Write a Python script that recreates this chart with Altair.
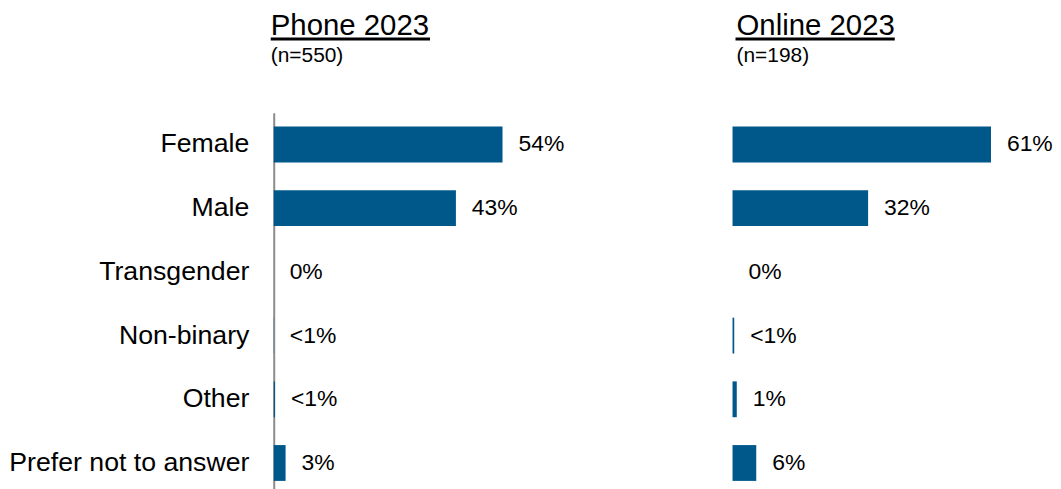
import altair as alt
import pandas as pd

categories = ["Female", "Male", "Transgender", "Non-binary", "Other", "Prefer not to answer"]
phone_values = [54, 43, 0, 0.05, 0.3, 2.8]
phone_labels = ["54%", "43%", "0%", "<1%", "<1%", "3%"]
online_values = [61, 32, 0, 0.4, 1.0, 5.6]
online_labels = ["61%", "32%", "0%", "<1%", "1%", "6%"]

FONT = "Liberation Sans"
BAR = "#00578A"
W, H = 298, 384


def panel(values, labels, title, subtitle, show_axis, ul_x1, ul_x2, tdx):
    df = pd.DataFrame({"cat": categories, "val": values, "lab": labels})
    base = alt.Chart(df)
    y_axis = (alt.Axis(title=None, labelFont=FONT, labelFontSize=26.8, labelColor="black",
                       ticks=False, domainColor="#8c8c8c", domainWidth=2, labelPadding=25,
                       labelLimit=400)
              if show_axis else None)
    y = alt.Y("cat:N", sort=categories, axis=y_axis,
              scale=alt.Scale(paddingInner=0.4375, paddingOuter=0.21875))
    x = alt.X("val:Q", scale=alt.Scale(domain=[0, 70]), axis=None)
    bars = base.mark_bar(color=BAR).encode(x=x, y=y)
    texts = base.mark_text(align="left", baseline="middle", dx=16, font=FONT,
                           fontSize=23, color="black").encode(x=x, y=y, text="lab:N")
    one = alt.Chart(alt.Data(values=[{"a": 1}]))
    t1 = one.mark_text(align="left", baseline="alphabetic", font=FONT, fontSize=29.5,
                       color="black", dx=tdx).encode(x=alt.value(0), y=alt.value(-78),
                                                     text=alt.value(title))
    t2 = one.mark_text(align="left", baseline="alphabetic", font=FONT, fontSize=21,
                       color="black", dx=tdx).encode(x=alt.value(0), y=alt.value(-51),
                                                     text=alt.value(subtitle))
    ul = one.mark_rule(color="black", strokeWidth=3).encode(
        x=alt.value(ul_x1), x2=alt.value(ul_x2), y=alt.value(-74))
    return alt.layer(bars, texts, t1, t2, ul).properties(width=W, height=H)


left = panel(phone_values, phone_labels, "Phone 2023", "(n=550)", True, -3, 157, -3)
right = panel(online_values, online_labels, "Online 2023", "(n=198)", False, 3, 163, 4)

chart = (alt.hconcat(left, right, spacing=163)
         .resolve_scale(y="independent")
         .properties(padding={"top": 2, "left": 0, "right": 0, "bottom": 0},
                     background="white")
         .configure_view(strokeWidth=0, stroke="transparent"))

chart.save("out.html", embed_options={"renderer": "svg", "actions": False})
